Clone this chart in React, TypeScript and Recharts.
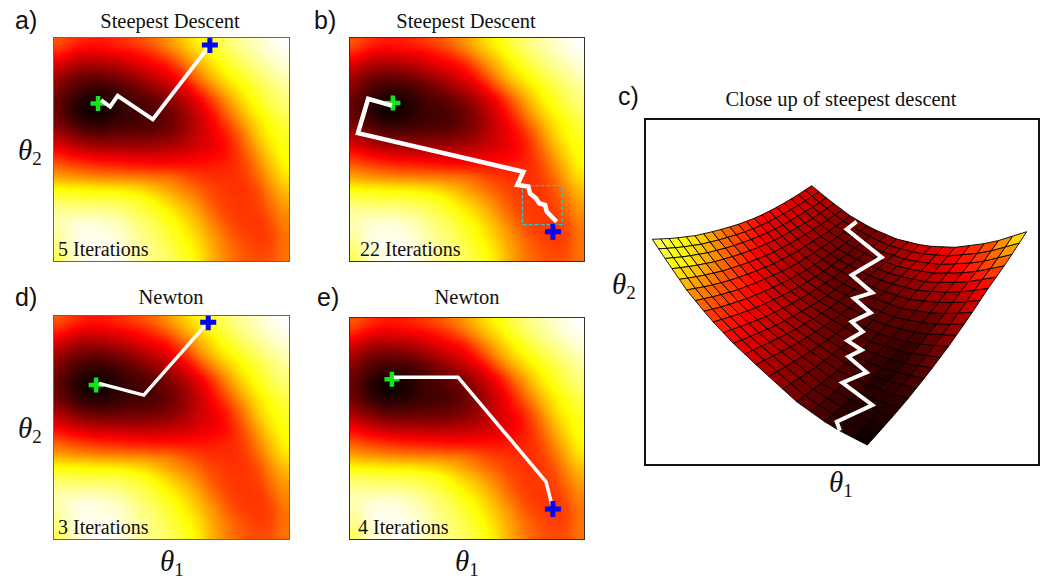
import React from "react";
import { ScatterChart, Scatter, XAxis, YAxis, ReferenceArea } from "recharts";

// Cost surface (0 black, 37 red, 75 yellow, 100 white); rows top to bottom
const heatRows: number[][] = [
  [50,45,42,40,41,43,46,49,53,58,64,70,75,80,85,89,92,95,98,100],
  [41,36,33,33,34,35,37,40,44,50,57,64,70,76,81,86,90,93,96,98],
  [31,26,24,24,25,27,30,33,36,39,47,56,64,71,77,82,86,90,93,96],
  [24,18,16,15,16,18,21,25,29,33,38,48,58,66,72,77,82,86,90,93],
  [19,13,10,9,9,11,14,18,22,26,31,37,48,58,66,72,77,82,86,90],
  [15,9,5,3,4,7,10,12,15,19,24,30,37,48,58,67,74,79,84,87],
  [14,8,3,1,3,6,9,10,12,15,20,26,33,41,52,62,70,76,81,85],
  [16,11,7,5,6,8,9,10,11,14,18,24,30,37,46,56,65,72,77,81],
  [23,18,14,12,12,13,14,14,15,17,20,25,30,35,40,50,60,70,75,79],
  [31,27,24,22,21,21,21,21,22,23,25,28,31,34,38,46,56,66,73,77],
  [41,37,35,33,32,32,31,31,31,31,32,33,35,36,39,44,52,62,70,76],
  [52,49,47,45,44,43,42,41,40,40,40,40,40,41,42,44,49,58,66,74],
  [62,60,59,58,57,57,56,56,55,55,52,48,46,44,44,44,47,54,63,71],
  [75,74,74,73,73,72,71,69,66,62,58,54,50,47,45,44,45,50,59,66],
  [84,83,82,82,82,81,80,78,74,69,65,60,55,49,46,45,45,48,55,62],
  [90,90,90,90,89,88,85,82,79,75,70,65,59,52,47,45,45,46,52,59],
  [92,95,96,96,95,93,90,86,83,78,75,69,63,56,50,46,45,45,49,56],
  [91,96,98,98,97,95,92,88,85,81,77,72,66,60,53,48,46,45,47,54],
  [88,95,98,99,99,97,93,90,87,83,79,75,69,62,56,51,48,46,48,54],
  [83,93,97,99,100,98,94,90,87,85,81,77,71,63,57,52,49,48,49,54],
];

// Optimisation tracks in (theta1, theta2), both 0..1
const pathA = [[0.662,0.964],[0.421,0.634],[0.273,0.739],[0.241,0.69],[0.203,0.72]];
const pathB = [[0.88,0.179],[0.859,0.201],[0.838,0.224],[0.831,0.253],[0.806,0.261],[0.792,0.283],[0.767,0.305],[0.76,0.335],[0.713,0.342],[0.739,0.401],[0.038,0.573],[0.081,0.725],[0.182,0.695]];
const pathD = [[0.655,0.968],[0.383,0.644],[0.194,0.696]];
const pathE = [[0.864,0.139],[0.835,0.261],[0.462,0.73],[0.19,0.73]];
const startA = [0.662,0.964]; const endA = [0.19,0.705];
const startB = [0.864,0.135]; const endB = [0.186,0.707];
const startD = [0.655,0.968]; const endD = [0.182,0.689];
const startE = [0.864,0.139]; const endE = [0.182,0.721];
const closeUpBox = { x1: 0.735, x2: 0.903, y1: 0.166, y2: 0.339 };

// Projected surface vertices for panel c
const surfX: number[][] = [
  [37,100,165,230,295,355,410,465,515],
  [85,148,213,280,344,404,461,518,570],
  [140,205,270,336,401,462,519,578,630],
  [205,269,333,399,463,525,583,642,695],
  [280,344,408,473,537,598,657,717,770],
  [365,429,492,557,620,681,740,801,855],
  [470,532,593,654,715,774,832,892,945],
  [575,638,699,761,821,881,941,1001,1055],
  [682,745,805,865,925,985,1045,1105,1160],
];
const surfY: number[][] = [
  [208,205,197,182,163,140,112,80,47],
  [280,273,261,243,220,194,162,128,92],
  [360,348,331,308,281,250,214,176,137],
  [440,422,400,371,339,303,261,218,175],
  [520,494,466,432,393,351,303,255,207],
  [600,566,530,489,443,392,337,283,228],
  [695,649,601,548,491,429,361,296,232],
  [770,712,653,589,520,447,368,293,218],
  [825,755,685,610,530,445,355,270,185],
];
const surfZ: number[][] = [
  [88,78,72,58,47,38,37,33,30],
  [78,72,60,48,38,32,29,26,25],
  [62,55,46,38,30,25,22,20,18],
  [46,42,37,30,24,19,16,15,17],
  [36,32,28,23,18,14,14,17,24],
  [26,23,20,16,13,13,16,24,32],
  [16,14,13,11,11,14,20,30,38],
  [8,6,6,6,9,15,26,42,50],
  [0,4,8,14,20,27,37,55,78],
];
const pathC = [[650,155],[620,178],[725,262],[635,315],[697,368],[642,385],[692,428],[635,455],[668,485],[622,512],[665,540],[625,560],[680,607],[607,638],[697,705],[590,755],[600,782]];

const toPts = (p: number[][]) => p.map(([x, y]) => ({ x, y }));
const clamp = (t: number) => Math.max(0, Math.min(1, t));
const redOf = (t: number) => clamp(t / 0.37);
const greenOf = (t: number) => clamp((t - 0.37) / 0.38);
const blueOf = (t: number) => clamp((t - 0.75) / 0.25);
function hot(v: number) {
  const t = v / 100;
  return `rgb(${Math.round(255 * redOf(t))},${Math.round(255 * greenOf(t))},${Math.round(255 * blueOf(t))})`;
}
const tableSteps = Array.from({ length: 101 }, (_, k) => k / 100);
const tableOf = (f: (t: number) => number) => tableSteps.map((t) => f(t).toFixed(3)).join(" ");

function HotFilter() {
  return (
    <svg width={0} height={0} style={{ position: "absolute" }}>
      <filter id="hotmap" colorInterpolationFilters="sRGB">
        <feGaussianBlur stdDeviation={5} />
        <feComponentTransfer>
          <feFuncR type="table" tableValues={tableOf(redOf)} />
          <feFuncG type="table" tableValues={tableOf(greenOf)} />
          <feFuncB type="table" tableValues={tableOf(blueOf)} />
        </feComponentTransfer>
      </filter>
    </svg>
  );
}

const PAD = 24;
const heatCells = heatRows.flatMap((row, r) =>
  row.map((val, c) => ({ x: (c + 0.5) / 20, y: 1 - (r + 0.5) / 20, val, r, c }))
);

function Heat({ w, h }: { w: number; h: number }) {
  const cw = w / 20, ch = h / 20;
  const shape = (p: any) => {
    const { r, c, val } = p.payload;
    const l = p.cx - cw / 2 - (c === 0 ? PAD : 0);
    const t = p.cy - ch / 2 - (r === 0 ? PAD : 0);
    const rw = cw + 0.6 + (c === 0 || c === 19 ? PAD : 0);
    const rh = ch + 0.6 + (r === 0 || r === 19 ? PAD : 0);
    const g = Math.round(val * 2.55);
    return <rect x={l} y={t} width={rw} height={rh} fill={`rgb(${g},${g},${g})`} />;
  };
  return (
    <div style={{ position: "absolute", left: 0, top: 0, width: w, height: h, overflow: "hidden" }}>
      <div style={{ position: "absolute", left: -PAD, top: -PAD, filter: "url(#hotmap)" }}>
        <ScatterChart width={w + 2 * PAD} height={h + 2 * PAD} margin={{ top: PAD, right: PAD, bottom: PAD, left: PAD }}>
          <XAxis type="number" dataKey="x" domain={[0, 1]} hide />
          <YAxis type="number" dataKey="y" domain={[0, 1]} hide />
          <Scatter data={heatCells} shape={shape} isAnimationActive={false} />
        </ScatterChart>
      </div>
    </div>
  );
}

const plus = (color: string, size: number, thick: number) => (p: any) => {
  const a = size / 2, b = thick / 2;
  return (
    <path
      d={`M${p.cx - a},${p.cy - b}H${p.cx - b}V${p.cy - a}H${p.cx + b}V${p.cy - b}H${p.cx + a}V${p.cy + b}H${p.cx + b}V${p.cy + a}H${p.cx - b}V${p.cy + b}H${p.cx - a}Z`}
      fill={color}
    />
  );
};
const noDot = () => <g />;

function HeatPanel({ left, top, w, h, path, start, end, lw, box, borderColor }: any) {
  return (
    <div style={{ position: "absolute", left, top, width: w, height: h }}>
      <Heat w={w} h={h} />
      <div style={{ position: "absolute", left: 0, top: 0 }}>
        <ScatterChart width={w} height={h} margin={{ top: 0, right: 0, bottom: 0, left: 0 }} style={{ overflow: "visible" }}>
          <XAxis type="number" dataKey="x" domain={[0, 1]} hide />
          <YAxis type="number" dataKey="y" domain={[0, 1]} hide />
          {box ? (
            <ReferenceArea {...box} stroke="#1fd0d0" strokeWidth={1.2} strokeDasharray="4 2" fill="none" fillOpacity={0} />
          ) : null}
          <Scatter data={toPts([end])} shape={plus("#14e61e", 15, 4.5)} isAnimationActive={false} />
          <Scatter data={toPts(path)} line={{ stroke: "#fff", strokeWidth: lw }} shape={noDot} isAnimationActive={false} />
          <Scatter data={toPts([start])} shape={plus("#0505f0", 16, 5)} isAnimationActive={false} />
        </ScatterChart>
      </div>
      <div style={{ position: "absolute", left: 0, top: 0, width: w, height: h, boxSizing: "border-box", border: `1.5px solid ${borderColor}`, pointerEvents: "none" }} />
    </div>
  );
}

const surfCells = surfX.slice(0, 8).flatMap((row, b) =>
  row.slice(0, 8).map((x, a) => ({ x, y: surfY[b][a], a, b }))
);
const MESH = 20;
const K = 1 / 3;
const at = (m: number[][], A: number, B: number) => {
  const a = Math.min(7, Math.floor(A)), b = Math.min(7, Math.floor(B));
  const s = A - a, t = B - b;
  return (1 - s) * (1 - t) * m[b][a] + s * (1 - t) * m[b][a + 1] + (1 - s) * t * m[b + 1][a] + s * t * m[b + 1][a + 1];
};
const meshIdx = Array.from({ length: MESH }, (_, i) => i);
const surfShape = (p: any) => {
  const { a, b, x: x0, y: y0 } = p.payload;
  const step = 8 / MESH;
  const out: any[] = [];
  meshIdx.filter((i) => Math.min(7, Math.floor(i * step + 1e-6)) === a).forEach((i) => {
    meshIdx.filter((j) => Math.min(7, Math.floor(j * step + 1e-6)) === b).forEach((j) => {
      const corner = (I: number, J: number) =>
        `${(p.cx + (at(surfX, I * step, J * step) - x0) * K).toFixed(1)},${(p.cy + (at(surfY, I * step, J * step) - y0) * K).toFixed(1)}`;
      out.push(
        <polygon
          key={`${i}-${j}`}
          points={[corner(i, j), corner(i + 1, j), corner(i + 1, j + 1), corner(i, j + 1)].join(" ")}
          fill={hot(at(surfZ, (i + 0.5) * step, (j + 0.5) * step))}
          stroke="#000"
          strokeOpacity={0.9}
          strokeWidth={1}
        />
      );
    });
  });
  return <g>{out}</g>;
};

function SurfacePanel() {
  return (
    <div style={{ position: "absolute", left: 644, top: 118, width: 396, height: 348 }}>
      <ScatterChart width={396} height={348} margin={{ top: 0, right: 0, bottom: 0, left: 0 }}>
        <XAxis type="number" dataKey="x" domain={[12, 1200]} hide />
        <YAxis type="number" dataKey="y" domain={[-156, 888]} reversed hide />
        <Scatter data={surfCells} shape={surfShape} isAnimationActive={false} />
        <Scatter data={toPts(pathC)} line={{ stroke: "#fff", strokeWidth: 4 }} shape={noDot} isAnimationActive={false} />
      </ScatterChart>
      <div style={{ position: "absolute", left: 0, top: 0, width: 396, height: 348, boxSizing: "border-box", border: "2px solid #111", pointerEvents: "none" }} />
    </div>
  );
}

const SERIF = "'Liberation Serif', serif";
const SANS = "'Liberation Sans', sans-serif";
function T({ x, y, size, font, children, center }: any) {
  return (
    <div style={{ position: "absolute", left: x, top: y, fontFamily: font, fontSize: size, lineHeight: 1, whiteSpace: "nowrap", color: "#111", transform: center ? "translate(-50%,-50%)" : "translateY(-50%)" }}>
      {children}
    </div>
  );
}
function Theta({ x, y, sub }: any) {
  return (
    <T x={x} y={y} size={29} font={SERIF}>
      <i>θ</i>
      <span style={{ fontSize: 19, position: "relative", top: 5 }}>{sub}</span>
    </T>
  );
}

const panelTitles = ["Steepest Descent", "Newton", "Close up of steepest descent"];
const iterationLabels = ["5 Iterations", "22 Iterations", "3 Iterations", "4 Iterations"];

export default function App() {
  return (
    <div style={{ position: "absolute", left: 0, top: 0, width: 1043, height: 578, background: "#fff", overflow: "hidden" }}>
      <HotFilter />
      <HeatPanel left={53} top={37} w={237} h={225} path={pathA} start={startA} end={endA} lw={4} borderColor="#666" />
      <HeatPanel left={349} top={37} w={236} h={225} path={pathB} start={startB} end={endB} lw={4.5} box={closeUpBox} borderColor="#333" />
      <HeatPanel left={53} top={315} w={237} h={225} path={pathD} start={startD} end={endD} lw={3.5} borderColor="#666" />
      <HeatPanel left={349} top={317} w={236} h={223} path={pathE} start={startE} end={endE} lw={3.5} borderColor="#333" />
      <SurfacePanel />

      <T x={170} y={21} size={20.5} font={SERIF} center>{panelTitles[0]}</T>
      <T x={466} y={21} size={20.5} font={SERIF} center>{panelTitles[0]}</T>
      <T x={171} y={297} size={20.5} font={SERIF} center>{panelTitles[1]}</T>
      <T x={467} y={297} size={20.5} font={SERIF} center>{panelTitles[1]}</T>
      <T x={841} y={99} size={20.5} font={SERIF} center>{panelTitles[2]}</T>

      <T x={58} y={249} size={20} font={SERIF}>{iterationLabels[0]}</T>
      <T x={360} y={249} size={20} font={SERIF}>{iterationLabels[1]}</T>
      <T x={58} y={527} size={20} font={SERIF}>{iterationLabels[2]}</T>
      <T x={358} y={527} size={20} font={SERIF}>{iterationLabels[3]}</T>

      <T x={15} y={20} size={25} font={SANS}>a)</T>
      <T x={314} y={20} size={25} font={SANS}>b)</T>
      <T x={618} y={96} size={25} font={SANS}>c)</T>
      <T x={15} y={297} size={25} font={SANS}>d)</T>
      <T x={317} y={297} size={25} font={SANS}>e)</T>

      <Theta x={18} y={150} sub="2" />
      <Theta x={18} y={428} sub="2" />
      <Theta x={612} y={284} sub="2" />
      <Theta x={829} y={482} sub="1" />
      <Theta x={160} y={561} sub="1" />
      <Theta x={455} y={561} sub="1" />
    </div>
  );
}
